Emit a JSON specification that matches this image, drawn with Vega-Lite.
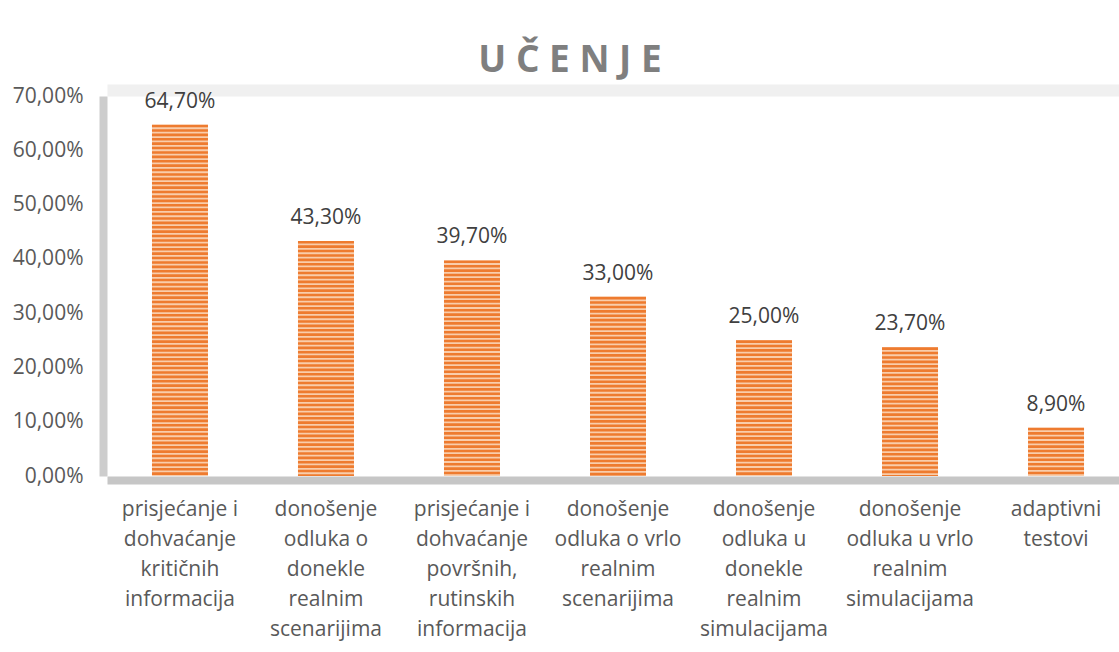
{
  "$schema": "https://vega.github.io/schema/vega-lite/v6.json",
  "width": 1012,
  "height": 380,
  "autosize": {"type": "none"},
  "padding": {"left": 107, "top": 96, "right": 0, "bottom": 176},
  "background": "white",
  "config": {
    "locale": {"number": {"decimal": ",", "thousands": ".", "grouping": [3], "currency": ["", " kn"]}},
    "view": {"stroke": null, "fill": "white"},
    "font": "Open Sans"
  },
  "title": {
    "text": "U Č E N J E",
    "font": "Open Sans",
    "fontSize": 37,
    "fontWeight": "bold",
    "color": "#7f7f7f",
    "anchor": "middle",
    "dx": -43,
    "dy": 45,
    "offset": 21,
    "baseline": "alphabetic"
  },
  "data": {
    "values": [
      {"kategorija": "prisjećanje i\ndohvaćanje\nkritičnih\ninformacija", "udio": 0.647},
      {"kategorija": "donošenje\nodluka o\ndonekle\nrealnim\nscenarijima", "udio": 0.433},
      {"kategorija": "prisjećanje i\ndohvaćanje\npovršnih,\nrutinskih\ninformacija", "udio": 0.397},
      {"kategorija": "donošenje\nodluka o vrlo\nrealnim\nscenarijima", "udio": 0.33},
      {"kategorija": "donošenje\nodluka u\ndonekle\nrealnim\nsimulacijama", "udio": 0.25},
      {"kategorija": "donošenje\nodluka u vrlo\nrealnim\nsimulacijama", "udio": 0.237},
      {"kategorija": "adaptivni\ntestovi", "udio": 0.089}
    ]
  },
  "layer": [
    {
      "mark": {"type": "bar", "color": "#F9CDAB"},
      "encoding": {
        "x": {
          "field": "kategorija", "type": "nominal", "sort": null,
          "scale": {"range": [0, 1022], "paddingInner": 0.6164, "paddingOuter": 0.308},
          "axis": {
            "orient": "bottom", "title": null, "labelAngle": 0,
            "labelExpr": "split(datum.value, '\\n')",
            "labelFont": "Open Sans", "labelFontSize": 21, "labelLineHeight": 30,
            "labelColor": "#595959", "labelBaseline": "top", "labelPadding": 18,
            "labelLimit": 300,
            "domainColor": "#c6c6c6", "domainWidth": 8, "offset": 4,
            "ticks": false, "tickSize": 0, "grid": false
          }
        },
        "y": {
          "field": "udio", "type": "quantitative",
          "scale": {"domain": [0, 0.7], "nice": false},
          "axis": {
            "title": null, "format": ".2%",
            "values": [0, 0.1, 0.2, 0.3, 0.4, 0.5, 0.6, 0.7],
            "labelFont": "Open Sans", "labelFontSize": 21, "labelColor": "#595959",
            "labelPadding": 20, "domainColor": "#cdcdcd", "domainWidth": 8, "offset": 4,
            "ticks": false, "tickSize": 0, "grid": false
          }
        }
      }
    },
    {
      "mark": {"type": "rule", "color": "#EE7B2F", "strokeWidth": 56, "strokeDash": [2.6, 1.8]},
      "encoding": {
        "x": {
          "field": "kategorija", "type": "nominal", "sort": null,
          "axis": {
            "orient": "top", "title": null, "labels": false, "ticks": false, "tickSize": 0,
            "domainColor": "#f0f0f0", "domainWidth": 12, "offset": 6, "grid": false
          }
        },
        "y": {"field": "udio", "type": "quantitative"},
        "y2": {"datum": 0}
      }
    },
    {
      "mark": {"type": "text", "font": "Open Sans", "fontSize": 21, "color": "#404040", "baseline": "alphabetic", "dy": -17},
      "encoding": {
        "x": {"field": "kategorija", "type": "nominal", "sort": null, "axis": null},
        "y": {"field": "udio", "type": "quantitative"},
        "text": {"field": "udio", "type": "quantitative", "format": ".2%"}
      }
    }
  ],
  "resolve": {"axis": {"x": "independent"}}
}
